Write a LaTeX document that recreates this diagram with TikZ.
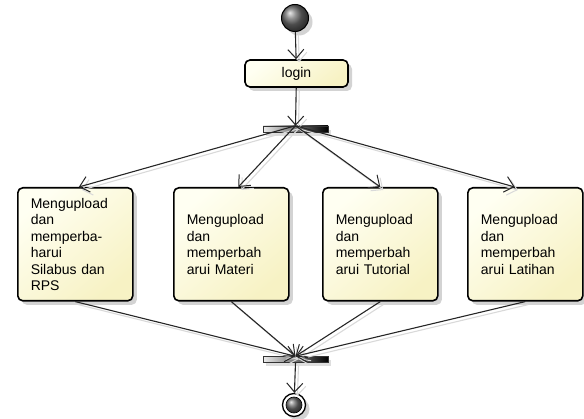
\documentclass[tikz,border=0pt]{standalone}
\usepackage{fontspec}
\setmainfont{Liberation Sans}
\usetikzlibrary{arrows.meta,calc,shadows}

\definecolor{actlight}{RGB}{255,255,242}
\definecolor{actdark}{RGB}{247,242,196}
\definecolor{shadowgray}{RGB}{200,200,200}

\tikzset{
  actbox/.style={draw=black, line width=1.6pt, rounded corners=5pt,
    top color=actlight, bottom color=actdark, shading angle=40,
    drop shadow={shadow xshift=4pt, shadow yshift=-4pt, fill=shadowgray, opacity=0.8},
    font=\fontsize{14}{16.5}\selectfont},
  taskbox/.style={actbox, anchor=north west, align=left, text width=89pt,
    inner xsep=13pt, inner ysep=0pt, minimum height=113pt},
  syncbar/.style={draw=black!80, line width=0.5pt, inner sep=0pt,
    minimum width=65pt, minimum height=6pt, left color=gray!15, right color=black,
    drop shadow={shadow xshift=3pt, shadow yshift=-4pt, fill=shadowgray, opacity=0.6}},
  flow/.style={draw=black!85, line width=1.1pt,
    -{Straight Barb[length=9pt,width=16pt,line width=1pt]}},
  flowshade/.style={draw=gray!30, line width=1.1pt,
    -{Straight Barb[length=9pt,width=16pt,line width=1pt]},
    transform canvas={shift={(3pt,-3pt)}}},
}

\begin{document}
\begin{tikzpicture}[x=1pt,y=-1pt]
  \useasboundingbox (0,0) rectangle (584,419);

  % initial and final states
  \node[circle, draw=black, line width=1pt, minimum size=27pt, inner sep=0pt,
        ball color=gray!85!black,
        drop shadow={shadow xshift=4pt, shadow yshift=-4pt, fill=shadowgray, opacity=0.8}]
        (start) at (295,18) {};
  \node[circle, draw=black, line width=1.3pt, minimum size=23pt, inner sep=0pt,
        fill=white,
        drop shadow={shadow xshift=4pt, shadow yshift=-4pt, fill=shadowgray, opacity=0.8}]
        (final) at (294,405) {};
  \node[circle, draw=black, line width=0.6pt, minimum size=16pt, inner sep=0pt,
        ball color=gray!85!black] (finalcore) at (final.center) {};

  % login action
  \node[actbox, minimum width=103pt, minimum height=27pt, inner sep=0pt]
        (login) at (296.5,73.5) {login};

  % fork and join bars
  \node[syncbar] (fork) at (295.5,129) {};
  \node[syncbar] (join) at (295.5,359.5) {};

  % upload actions
  \node[taskbox] (silabus) at (17,187)
    {Mengupload\\dan\\memperba-\\harui\\Silabus dan\\RPS};
  \node[taskbox] (materi) at (173,187)
    {Mengupload\\dan\\memperbah\\arui Materi};
  \node[taskbox] (tutorial) at (322,187)
    {Mengupload\\dan\\memperbah\\arui Tutorial};
  \node[taskbox] (latihan) at (467,187)
    {Mengupload\\dan\\memperbah\\arui Latihan};

  % arrow end points on the action tops
  \coordinate (inSilabus) at ($(silabus.north west)!0.53!(silabus.north east)$);
  \coordinate (inMateri) at ($(materi.north west)!0.56!(materi.north east)$);
  \coordinate (inTutorial) at ($(tutorial.north west)!0.5!(tutorial.north east)$);
  \coordinate (inLatihan) at ($(latihan.north west)!0.41!(latihan.north east)$);

  % faint connector shadows
  \draw[flowshade] (start) -- (login);
  \draw[flowshade] (login) -- (fork.north);
  \draw[flowshade] (fork.north) -- (inSilabus);
  \draw[flowshade] (fork.north) -- (inMateri);
  \draw[flowshade] (fork.north) -- (inTutorial);
  \draw[flowshade] (fork.north) -- (inLatihan);
  \draw[flowshade] (silabus.south) -- (join.north);
  \draw[flowshade] (materi.south) -- (join.north);
  \draw[flowshade] (tutorial.south) -- (join.north);
  \draw[flowshade] (latihan.south) -- (join.north);
  \draw[flowshade] (join.south) -- (final);

  % control flow
  \draw[flow] (start) -- (login);
  \draw[flow] (login) -- (fork.north);
  \draw[flow] (fork.north) -- (inSilabus);
  \draw[flow] (fork.north) -- (inMateri);
  \draw[flow] (fork.north) -- (inTutorial);
  \draw[flow] (fork.north) -- (inLatihan);
  \draw[flow] (silabus.south) -- (join.north);
  \draw[flow] (materi.south) -- (join.north);
  \draw[flow] (tutorial.south) -- (join.north);
  \draw[flow] (latihan.south) -- (join.north);
  \draw[flow] (join.south) -- (final);
\end{tikzpicture}
\end{document}
